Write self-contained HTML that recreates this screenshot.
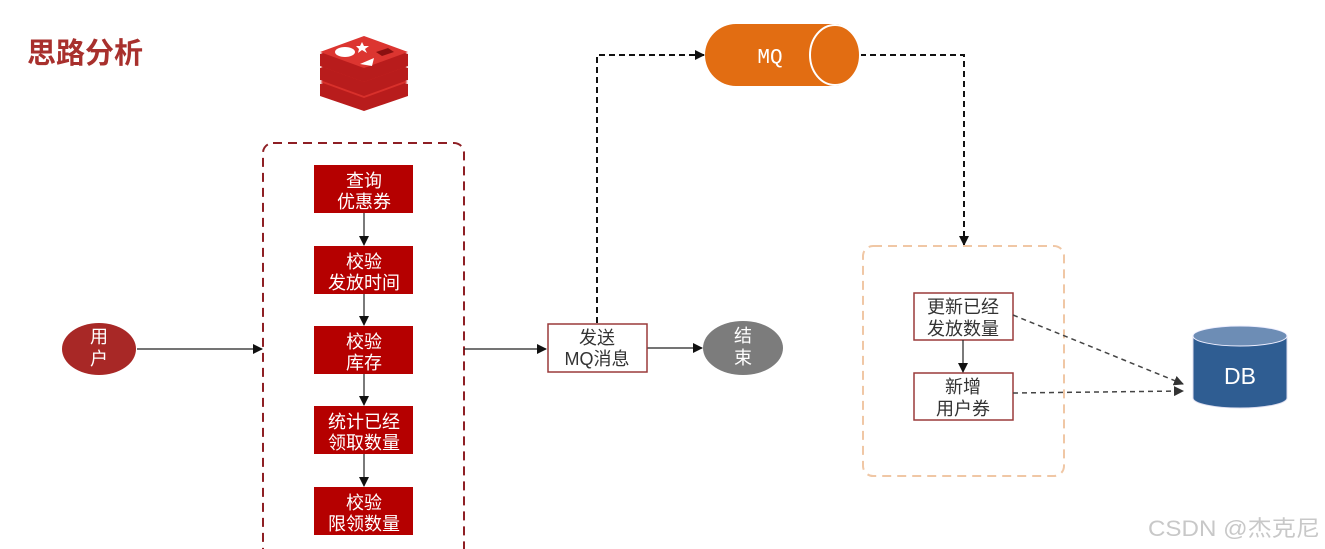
<!DOCTYPE html>
<html><head><meta charset="utf-8"><style>
html,body{margin:0;padding:0;background:#fff;width:1325px;height:549px;overflow:hidden}
svg{display:block}
text{font-family:"Liberation Sans","Noto Sans CJK SC",sans-serif}
</style></head><body>
<svg width="1325" height="549" viewBox="0 0 1325 549" xmlns="http://www.w3.org/2000/svg">
<defs>
<marker id="a" markerWidth="10" markerHeight="10" refX="9" refY="5" orient="auto" markerUnits="userSpaceOnUse"><path d="M0,0 L10,5 L0,10 z" fill="#111"/></marker>
<marker id="g" markerWidth="10" markerHeight="10" refX="9" refY="5" orient="auto" markerUnits="userSpaceOnUse"><path d="M0,0 L10,5 L0,10 z" fill="#333"/></marker>
</defs>
<text x="27" y="63" font-size="29" font-weight="bold" fill="#a8302d">思路分析</text>
<!-- redis logo -->
<g>
<path d="M320,84 L364,70 L408,84 L408,96 L364,111 L320,96 Z" fill="#b81c1c"/>
<path d="M320,82 L364,66 L408,82 L364,98 Z" fill="#d8302b"/>
<path d="M320,68 L364,52 L408,68 L408,80 L364,96 L320,80 Z" fill="#b81c1c"/>
<path d="M320,66 L364,50 L408,66 L364,82 Z" fill="#d8302b"/>
<path d="M320,54 L364,38 L408,54 L408,66 L364,82 L320,66 Z" fill="#b81c1c"/>
<path d="M320,52 L364,36 L408,52 L364,68 Z" fill="#dc3530"/>
<ellipse cx="345" cy="52" rx="10" ry="5" fill="#fff"/>
<path d="M360,64 L374,58 L372,66 Z" fill="#fff"/>
<path d="M362,42 L364,46 L369,46 L365,49 L367,53 L362,50 L358,53 L359,49 L356,46 L360,46 Z" fill="#fff"/>
<path d="M376,52 L388,48 L394,52 L382,56 Z" fill="#8a1010"/>
</g>
<!-- red dashed group -->
<rect x="263" y="143" width="201" height="430" rx="10" fill="none" stroke="#8e1f24" stroke-width="2" stroke-dasharray="9,6"/>
<g fill="#b50000">
<rect x="314" y="165" width="99" height="48"/>
<rect x="314" y="246" width="99" height="48"/>
<rect x="314" y="326" width="99" height="48"/>
<rect x="314" y="406" width="99" height="48"/>
<rect x="314" y="487" width="99" height="48"/>
</g>
<g font-size="18" fill="#fff" text-anchor="middle">
<text x="364" y="187">查询</text><text x="364" y="208">优惠券</text>
<text x="364" y="268">校验</text><text x="364" y="289">发放时间</text>
<text x="364" y="348">校验</text><text x="364" y="369">库存</text>
<text x="364" y="428">统计已经</text><text x="364" y="449">领取数量</text>
<text x="364" y="509">校验</text><text x="364" y="530">限领数量</text>
</g>
<g stroke="#222" stroke-width="1.2" marker-end="url(#a)">
<line x1="364" y1="213" x2="364" y2="245"/>
<line x1="364" y1="294" x2="364" y2="325"/>
<line x1="364" y1="374" x2="364" y2="405"/>
<line x1="364" y1="454" x2="364" y2="486"/>
<line x1="137" y1="349" x2="262" y2="349"/>
<line x1="464" y1="349" x2="546" y2="349"/>
<line x1="647" y1="348" x2="702" y2="348"/>
</g>
<ellipse cx="99" cy="349" rx="37" ry="26" fill="#a82826"/>
<text x="99" y="343" font-size="18" fill="#fff" text-anchor="middle">用</text>
<text x="99" y="365" font-size="18" fill="#fff" text-anchor="middle">户</text>
<rect x="548" y="324" width="99" height="48" fill="#fff" stroke="#9a3a3a" stroke-width="1.5"/>
<text x="597" y="344" font-size="18" fill="#333" text-anchor="middle">发送</text>
<text x="597" y="365" font-size="18" fill="#333" text-anchor="middle">MQ消息</text>
<ellipse cx="743" cy="348" rx="40" ry="27" fill="#7c7c7c"/>
<text x="743" y="342" font-size="18" fill="#fff" text-anchor="middle">结</text>
<text x="743" y="364" font-size="18" fill="#fff" text-anchor="middle">束</text>
<!-- MQ dashed -->
<path d="M597,323 L597,55 L704,55" fill="none" stroke="#111" stroke-width="2" stroke-dasharray="6,4" marker-end="url(#a)"/>
<path d="M860,55 L964,55 L964,245" fill="none" stroke="#111" stroke-width="2" stroke-dasharray="6,4" marker-end="url(#a)"/>
<!-- MQ cylinder -->
<path d="M736,24 L835,24 A25,31 0 0 1 835,86 L736,86 A31,31 0 0 1 736,24 Z" fill="#e26d12"/>
<ellipse cx="835" cy="55" rx="25" ry="30" fill="#e26d12" stroke="#fff" stroke-width="2"/>
<text x="770" y="63" font-size="21" fill="#fff" text-anchor="middle" style="font-family:'Liberation Mono','DejaVu Sans Mono',monospace">MQ</text>
<!-- orange dashed box -->
<rect x="863" y="246" width="201" height="230" rx="10" fill="none" stroke="#f0c7a5" stroke-width="2" stroke-dasharray="9,6"/>
<rect x="914" y="293" width="99" height="47" fill="#fff" stroke="#9a3a3a" stroke-width="1.5"/>
<rect x="914" y="373" width="99" height="47" fill="#fff" stroke="#9a3a3a" stroke-width="1.5"/>
<g font-size="18" fill="#333" text-anchor="middle">
<text x="963" y="313">更新已经</text><text x="963" y="335">发放数量</text>
<text x="963" y="393">新增</text><text x="963" y="415">用户券</text>
</g>
<line x1="963" y1="340" x2="963" y2="372" stroke="#222" stroke-width="1.2" marker-end="url(#a)"/>
<line x1="1013" y1="315" x2="1183" y2="384" stroke="#444" stroke-width="1.5" stroke-dasharray="5,4" marker-end="url(#g)"/>
<line x1="1013" y1="393" x2="1183" y2="391" stroke="#444" stroke-width="1.5" stroke-dasharray="5,4" marker-end="url(#g)"/>
<!-- DB -->
<path d="M1193,336 L1193,398 A47,10 0 0 0 1287,398 L1287,336 Z" fill="#2f5d92" stroke="#dde" stroke-width="1"/>
<ellipse cx="1240" cy="336" rx="47" ry="10" fill="#6d8db5" stroke="#eef" stroke-width="1"/>
<text x="1240" y="384" font-size="23" fill="#fff" text-anchor="middle">DB</text>
<text x="1148" y="536" font-size="22" fill="#c8c8c8" textLength="172" lengthAdjust="spacingAndGlyphs">CSDN @杰克尼</text>
</svg>
</body></html>
